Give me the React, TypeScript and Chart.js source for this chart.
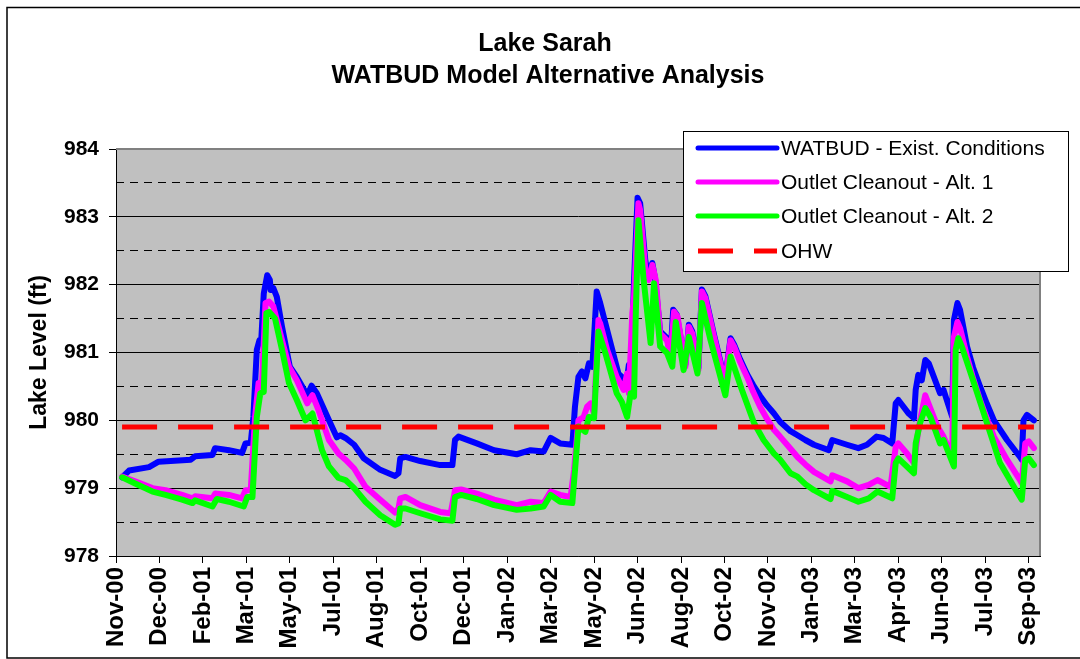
import React, { useEffect, useRef } from 'react';
import { Chart, registerables } from 'chart.js';

Chart.register(...registerables);

// ---------- DATA ----------
const xTickLabels = [
  'Nov-00', 'Dec-00', 'Feb-01', 'Mar-01', 'May-01', 'Jul-01', 'Aug-01', 'Oct-01',
  'Dec-01', 'Jan-02', 'Mar-02', 'May-02', 'Jun-02', 'Aug-02', 'Oct-02', 'Nov-02',
  'Jan-03', 'Mar-03', 'Apr-03', 'Jun-03', 'Jul-03', 'Sep-03',
];
// x values are days since 1-Nov-2000; one tick every 50 days
const xMin = 0;
const xMax = 1063;
const xStep = 50;
const yMin = 978;
const yMax = 984;

const chartTitle = ['Lake Sarah', 'WATBUD Model Alternative Analysis'];
const yTitle = 'Lake Level (ft)';

const existDays = [
  7, 15, 38, 49, 86, 91, 111, 114, 130, 145, 149, 155, 158, 162, 165, 167, 170, 174, 177, 178,
  181, 185, 191, 200, 208, 220, 225, 231, 245, 254, 258, 264, 274, 285, 304, 321, 325, 327, 333, 350,
  373, 387, 390, 394, 415, 435, 461, 477, 492, 500, 511, 525, 528, 532, 536, 540, 544, 548, 553, 557,
  565, 578, 582, 587, 590, 593, 596, 600, 603, 609, 613, 617, 620, 626, 634, 638, 641, 645, 655, 659,
  663, 670, 674, 678, 688, 699, 703, 707, 711, 718, 726, 733, 741, 749, 757, 764, 776, 784, 793, 803,
  820, 824, 841, 854, 864, 875, 883, 893, 897, 900, 912, 918, 920, 923, 927, 931, 935, 948, 952, 962,
  964, 968, 971, 979, 986, 994, 1002, 1010, 1025, 1040, 1042, 1044, 1048, 1056,
];
const existLevels = [
  979.16, 979.26, 979.31, 979.39, 979.42, 979.47, 979.49, 979.59, 979.56, 979.52, 979.66, 979.67, 980.05, 981.04, 981.18, 981.16, 981.87, 982.14, 982.07, 981.92,
  981.95, 981.82, 981.38, 980.79, 980.64, 980.37, 980.51, 980.40, 980.00, 979.75, 979.78, 979.74, 979.64, 979.44, 979.27, 979.18, 979.22, 979.44, 979.46, 979.40,
  979.34, 979.34, 979.71, 979.76, 979.66, 979.56, 979.50, 979.56, 979.54, 979.74, 979.66, 979.64, 980.20, 980.64, 980.72, 980.62, 980.84, 980.79, 981.90, 981.73,
  981.33, 980.69, 980.64, 980.53, 980.82, 980.80, 982.07, 983.28, 983.20, 982.35, 982.10, 982.32, 982.10, 981.31, 981.21, 980.97, 981.63, 981.56, 980.82, 981.41,
  981.31, 980.77, 981.93, 981.83, 981.26, 980.67, 980.82, 981.21, 981.12, 980.90, 980.68, 980.52, 980.36, 980.22, 980.10, 979.98, 979.84, 979.78, 979.71, 979.64,
  979.56, 979.71, 979.64, 979.59, 979.64, 979.76, 979.74, 979.66, 980.25, 980.30, 980.10, 980.03, 980.45, 980.67, 980.59, 980.89, 980.84, 980.40, 980.45, 980.05,
  981.48, 981.73, 981.63, 981.09, 980.78, 980.50, 980.24, 980.00, 979.71, 979.46, 979.42, 980.00, 980.08, 980.00,
];

const alt1Days = [
  7, 22, 42, 57, 76, 88, 91, 111, 114, 130, 145, 149, 155, 160, 164, 168, 172, 176, 181, 191,
  199, 208, 220, 226, 233, 245, 256, 264, 274, 287, 304, 321, 325, 327, 333, 350, 373, 385, 390, 397,
  415, 435, 461, 477, 492, 500, 511, 523, 527, 532, 538, 542, 546, 550, 555, 557, 565, 576, 584, 588,
  590, 594, 596, 601, 603, 609, 613, 617, 621, 626, 634, 638, 642, 646, 655, 659, 663, 670, 674, 678,
  688, 699, 703, 707, 711, 718, 726, 733, 741, 749, 757, 764, 776, 784, 793, 803, 822, 824, 841, 854,
  866, 876, 891, 897, 900, 910, 918, 922, 925, 931, 945, 952, 962, 964, 968, 971, 979, 986, 994, 1002,
  1010, 1025, 1040, 1042, 1046, 1050, 1056,
];
const alt1Levels = [
  979.17, 979.10, 979.00, 978.97, 978.90, 978.85, 978.88, 978.85, 978.92, 978.90, 978.85, 978.97, 978.97, 980.05, 980.55, 980.55, 981.73, 981.75, 981.68, 981.18,
  980.79, 980.59, 980.25, 980.37, 980.15, 979.71, 979.51, 979.42, 979.29, 979.02, 978.83, 978.64, 978.70, 978.85, 978.87, 978.75, 978.65, 978.63, 978.97, 978.98,
  978.92, 978.83, 978.75, 978.80, 978.78, 978.95, 978.90, 978.87, 979.27, 980.00, 980.05, 980.20, 980.25, 980.10, 981.48, 981.43, 981.04, 980.64, 980.45, 980.69,
  980.40, 981.58, 981.82, 983.20, 983.10, 982.22, 982.07, 982.29, 982.07, 981.28, 981.18, 980.94, 981.60, 981.53, 980.79, 981.38, 981.28, 980.74, 981.90, 981.80,
  981.23, 980.64, 980.79, 981.18, 981.09, 980.86, 980.64, 980.42, 980.20, 980.02, 979.86, 979.76, 979.58, 979.46, 979.35, 979.24, 979.10, 979.19, 979.10, 979.00,
  979.05, 979.12, 979.02, 979.61, 979.66, 979.51, 979.37, 979.76, 980.00, 980.37, 979.91, 979.76, 979.46, 981.23, 981.45, 981.36, 980.94, 980.62, 980.30, 980.02,
  979.76, 979.42, 979.12, 979.07, 979.66, 979.69, 979.59,
];

const alt2Days = [
  7, 22, 42, 57, 76, 88, 91, 111, 116, 130, 147, 151, 157, 162, 166, 170, 173, 176, 183, 191,
  199, 208, 218, 226, 237, 245, 256, 264, 274, 287, 304, 321, 325, 327, 333, 350, 373, 387, 390, 397,
  415, 435, 461, 477, 492, 500, 511, 525, 529, 532, 540, 544, 550, 555, 563, 576, 582, 588, 592, 596,
  598, 601, 607, 615, 619, 626, 634, 640, 644, 653, 659, 669, 674, 684, 701, 707, 720, 734, 745, 757,
  764, 776, 784, 793, 803, 822, 824, 841, 854, 866, 876, 893, 897, 900, 918, 920, 925, 931, 937, 948,
  952, 964, 966, 969, 973, 987, 1002, 1017, 1033, 1042, 1046, 1050, 1056,
];
const alt2Levels = [
  979.16, 979.07, 978.95, 978.90, 978.83, 978.78, 978.82, 978.73, 978.84, 978.80, 978.73, 978.87, 978.87, 980.05, 980.40, 980.42, 981.58, 981.60, 981.50, 981.04,
  980.55, 980.30, 980.00, 980.10, 979.56, 979.32, 979.15, 979.12, 979.00, 978.80, 978.60, 978.46, 978.48, 978.70, 978.70, 978.63, 978.54, 978.52, 978.87, 978.90,
  978.84, 978.75, 978.68, 978.70, 978.73, 978.90, 978.80, 978.78, 979.42, 979.91, 979.83, 980.05, 980.03, 981.31, 980.99, 980.40, 980.27, 980.05, 980.40, 980.35,
  981.58, 982.95, 982.07, 981.14, 982.02, 981.09, 980.99, 980.79, 981.45, 980.74, 981.23, 980.69, 981.73, 981.18, 980.37, 980.94, 980.45, 979.96, 979.71, 979.51,
  979.42, 979.22, 979.17, 979.06, 978.97, 978.84, 978.96, 978.87, 978.80, 978.85, 978.95, 978.85, 979.37, 979.44, 979.22, 979.66, 979.96, 980.18, 980.05, 979.66,
  979.71, 979.32, 981.04, 981.21, 981.09, 980.55, 979.96, 979.37, 979.02, 978.83, 979.42, 979.44, 979.34,
];

const ohwDays = [7, 1056];
const ohwLevels = [979.9, 979.9];

const seriesLabels = [
  'WATBUD - Exist. Conditions',
  'Outlet Cleanout - Alt. 1',
  'Outlet Cleanout - Alt. 2',
  'OHW',
];

// ---------- HELPERS ----------
const toPoints = (days: number[], levels: number[]) =>
  days.map((d, i) => ({ x: d, y: levels[i] }));

const FONT = '"Liberation Sans", Arial, Helvetica, sans-serif';

const decorPlugin = {
  id: 'decor',
  beforeDraw(chart: any) {
    const { ctx, chartArea: a, width, height } = chart;
    ctx.save();
    ctx.fillStyle = '#ffffff';
    ctx.fillRect(0, 0, width, height);
    ctx.fillStyle = '#c0c0c0';
    ctx.fillRect(a.left, a.top, a.right - a.left, a.bottom - a.top);
    ctx.restore();
  },
  beforeDatasetsDraw(chart: any) {
    const { ctx, chartArea: a } = chart;
    ctx.save();
    ctx.strokeStyle = '#808080';
    ctx.lineWidth = 2;
    ctx.beginPath();
    ctx.moveTo(a.left, a.top);
    ctx.lineTo(a.right, a.top);
    ctx.lineTo(a.right, a.bottom);
    ctx.stroke();
    ctx.restore();
  },
  afterDraw(chart: any) {
    const { ctx } = chart;
    ctx.save();
    // outer frame
    ctx.strokeStyle = '#000';
    ctx.lineWidth = 1.5;
    ctx.strokeRect(7, 7.5, 1100, 650.5);
    // title
    ctx.fillStyle = '#000';
    ctx.textAlign = 'center';
    ctx.textBaseline = 'alphabetic';
    ctx.font = `bold 25px ${FONT}`;
    ctx.fillText(chartTitle[0], 545, 51);
    ctx.fillText(chartTitle[1], 548, 83);
    // legend
    const bx = 683, by = 131, bw = 385, bh = 140;
    ctx.fillStyle = '#fff';
    ctx.fillRect(bx, by, bw, bh);
    ctx.strokeStyle = '#000';
    ctx.lineWidth = 1;
    ctx.strokeRect(bx + 0.5, by + 0.5, bw, bh);
    const rowY = [148, 182, 216, 251];
    chart.data.datasets.forEach((ds: any, i: number) => {
      const y = rowY[i];
      ctx.save();
      ctx.strokeStyle = ds.borderColor;
      ctx.lineWidth = 5;
      ctx.lineCap = ds.borderDash ? 'butt' : 'round';
      if (ds.borderDash) ctx.setLineDash(ds.borderDash);
      ctx.beginPath();
      ctx.moveTo(698, y);
      ctx.lineTo(777, y);
      ctx.stroke();
      ctx.restore();
      ctx.fillStyle = '#000';
      ctx.textAlign = 'left';
      ctx.textBaseline = 'middle';
      ctx.font = `21px ${FONT}`;
      ctx.fillText(ds.label, 781, y + 1);
    });
    ctx.restore();
  },
};

export default function App() {
  const canvasRef = useRef<HTMLCanvasElement | null>(null);

  useEffect(() => {
    const canvas = canvasRef.current;
    if (!canvas) return;
    const lineCommon = {
      borderWidth: 6,
      pointRadius: 0,
      pointHoverRadius: 0,
      tension: 0,
      fill: false,
      borderJoinStyle: 'round' as const,
      borderCapStyle: 'round' as const,
    };
    const chart = new Chart(canvas, {
      type: 'line',
      data: {
        datasets: [
          { ...lineCommon, label: seriesLabels[0], data: toPoints(existDays, existLevels), borderColor: '#0000ff', backgroundColor: '#0000ff', order: 3 },
          { ...lineCommon, label: seriesLabels[1], data: toPoints(alt1Days, alt1Levels), borderColor: '#ff00ff', backgroundColor: '#ff00ff', order: 2 },
          { ...lineCommon, label: seriesLabels[2], data: toPoints(alt2Days, alt2Levels), borderColor: '#00ff00', backgroundColor: '#00ff00', order: 1 },
          { ...lineCommon, label: seriesLabels[3], data: toPoints(ohwDays, ohwLevels), borderColor: '#ff0000', backgroundColor: '#ff0000', borderWidth: 5, borderDash: [35, 21], borderCapStyle: 'butt' as const, order: 0 },
        ],
      },
      options: {
        animation: false,
        responsive: false,
        maintainAspectRatio: false,
        devicePixelRatio: 1,
        events: [],
        layout: { padding: { left: 0, top: 149, right: 40, bottom: 0 } },
        plugins: {
          legend: { display: false },
          title: { display: false },
          tooltip: { enabled: false },
        },
        scales: {
          x: {
            type: 'linear',
            position: 'bottom',
            min: xMin,
            max: xMax,
            afterFit: (s: any) => { s.height = 103; },
            ticks: {
              stepSize: xStep,
              includeBounds: false,
              autoSkip: false,
              maxRotation: 90,
              minRotation: 90,
              padding: 4,
              color: '#000',
              font: { family: FONT, size: 24, weight: 'bold' },
              callback: (v: any) => xTickLabels[Math.round(Number(v) / xStep)] ?? '',
            },
            grid: { drawOnChartArea: false, drawTicks: true, tickLength: 7, tickColor: '#000', tickWidth: 1 },
            border: { color: '#000', width: 1 },
          },
          y: {
            type: 'linear',
            position: 'left',
            min: yMin,
            max: yMax,
            afterFit: (s: any) => { s.width = 116; },
            ticks: {
              stepSize: 1,
              padding: 10,
              color: '#000',
              font: { family: FONT, size: 21, weight: 'bold' },
            },
            grid: { color: '#000', lineWidth: 1, tickLength: 7, tickColor: '#000' },
            border: { color: '#000', width: 1 },
            title: {
              display: true,
              text: yTitle,
              color: '#000',
              font: { family: FONT, size: 23, weight: 'bold' },
              padding: { top: 26, bottom: 0 },
            },
          },
          yMinor: {
            type: 'linear',
            position: 'left',
            min: yMin,
            max: yMax,
            afterFit: (s: any) => { s.width = 0; },
            ticks: { stepSize: 0.5, display: false },
            grid: {
              drawTicks: false,
              lineWidth: 1,
              color: (c: any) => (c.tick && Math.abs(c.tick.value % 1) > 0.01 ? '#000' : 'rgba(0,0,0,0)'),
            },
            border: { display: false, dash: [8, 6] },
          },
        },
      } as any,
      plugins: [decorPlugin],
    });
    return () => chart.destroy();
  }, []);

  return (
    <div style={{ position: 'absolute', left: 0, top: 0, width: 1080, height: 659 }}>
      <canvas ref={canvasRef} width={1080} height={659} style={{ width: 1080, height: 659, display: 'block' }} />
    </div>
  );
}
